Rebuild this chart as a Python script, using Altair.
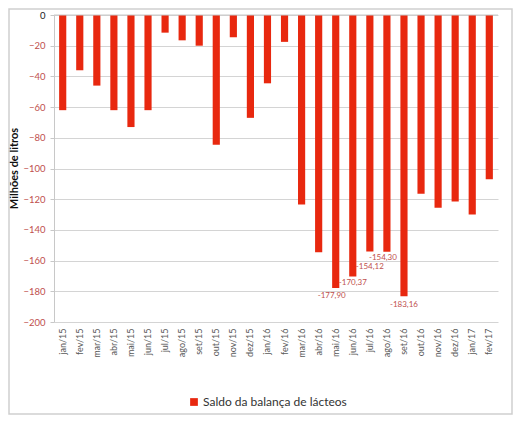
import altair as alt
import pandas as pd

months = ["jan/15", "fev/15", "mar/15", "abr/15", "mai/15", "jun/15", "jul/15",
          "ago/15", "set/15", "out/15", "nov/15", "dez/15", "jan/16", "fev/16",
          "mar/16", "abr/16", "mai/16", "jun/16", "jul/16", "ago/16", "set/16",
          "out/16", "nov/16", "dez/16", "jan/17", "fev/17"]
saldo = [-62, -36, -46, -62, -73, -62, -11.5, -16.5, -20, -84.5, -14.5, -67, -44.5,
         -17.5, -123.5, -154.5, -177.90, -170.37, -154.12, -154.30, -183.16,
         -116.5, -125.5, -121.5, -130, -107]
y_ticks = [0, -20, -40, -60, -80, -100, -120, -140, -160, -180, -200]

# labelled bars -> (dx, dy) of the label under the bar end
label_offsets = {"mai/16": (-4, 8), "jun/16": (0, 6), "jul/16": (0, 15),
                 "ago/16": (-4, 6), "set/16": (0, 9)}

BAR = '#e8280f'
RED_TXT = '#c0504d'
FONT = 'Lato'

df = pd.DataFrame({'mes': months, 'saldo': saldo})
df['serie'] = 'Saldo da balança de lácteos'
df['rotulo'] = df['saldo'].map(lambda v: f"{v:.2f}".replace('.', ','))

y_scale = alt.Scale(domain=[-200, 0], nice=False)
x_scale = alt.Scale(domain=months, paddingInner=0.58, paddingOuter=0.3)

x_axis = alt.Axis(labelAngle=-90, labelColor='#595959', labelFontSize=9,
                  labelFont=FONT, ticks=False, domain=False, grid=False,
                  labelPadding=6)
y_axis = alt.Axis(values=y_ticks, format='d',
                  labelColor=alt.condition('datum.value < 0',
                                           alt.value(RED_TXT), alt.value('#222')),
                  labelFontSize=9.5, labelFont=FONT, labelPadding=5,
                  labelOverlap=False,
                  titleFont=FONT, titleFontSize=11, titleFontWeight='bold',
                  titleColor='#111', titleX=-40, titleY=153, titleAlign='center',
                  titleBaseline='middle', titleAngle=270,
                  gridColor='#d4d4d4', domainColor='#c8c8c8',
                  tickColor='#c8c8c8', tickSize=4)

x_enc = alt.X('mes:N', title=None, scale=x_scale, axis=x_axis)
y_enc = alt.Y('saldo:Q', title='Milhões de litros', scale=y_scale, axis=y_axis)

base = alt.Chart(df)

bars = base.mark_bar(color=BAR).encode(
    x=x_enc,
    y=y_enc,
    color=alt.Color('serie:N', scale=alt.Scale(range=[BAR]),
                    legend=alt.Legend(title=None, orient='none', legendX=134, legendY=381,
                                      symbolType='square', symbolSize=60, symbolOffset=0,
                                      labelFont=FONT, labelFontSize=12, labelColor='#333',
                                      labelOffset=3)),
)

zero = alt.Chart(pd.DataFrame({'saldo': [0]})).mark_rule(color='#c8c8c8').encode(y=y_enc)

labels = []
for mes, (dx, dy) in label_offsets.items():
    labels.append(
        base.transform_filter(alt.datum.mes == mes).mark_text(
            baseline='middle', dx=dx, dy=dy, color=RED_TXT, font=FONT, fontSize=8
        ).encode(x=x_enc, y=y_enc, text='rotulo:N')
    )

# outer frame around the whole figure
frame = alt.Chart(pd.DataFrame({'a': [0]})).mark_rect(
    fill=None, stroke='#cfcfcf', strokeWidth=1.5).encode(
    x=alt.value(-45), x2=alt.value(458), y=alt.value(-6), y2=alt.value(399))

chart = alt.layer(bars, zero, *labels, frame).properties(
    width=444, height=307,
    autosize=alt.AutoSizeParams(type='none'),
    padding={'left': 46, 'top': 7, 'right': 21, 'bottom': 96},
    background='white',
).configure_view(stroke=None)

chart.save("out.html", embed_options={"renderer": "svg", "actions": False})
